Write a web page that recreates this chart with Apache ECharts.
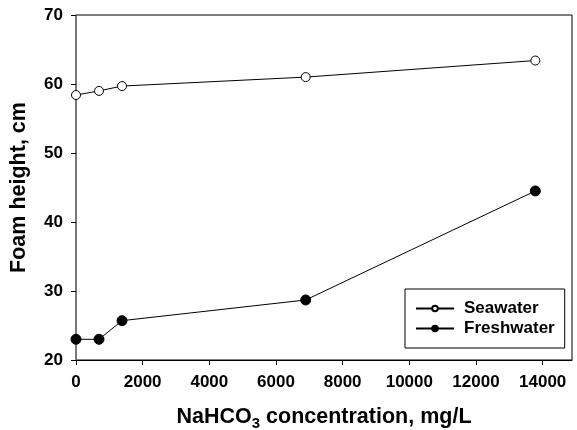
<!DOCTYPE html>
<html>
<head>
<meta charset="utf-8">
<script src="https://cdn.jsdelivr.net/npm/echarts@6/dist/echarts.min.js"></script>
<style>
html,body{margin:0;padding:0;background:#fff;}
#chart{width:577px;height:430px;}
</style>
</head>
<body>
<div id="chart"></div>
<script>
var concentration = [0, 690, 1380, 6890, 13780];
var seawater = [58.4, 59.0, 59.7, 61.0, 63.4];
var freshwater = [23.0, 23.0, 25.7, 28.7, 44.5];
var xTicks = [0, 2000, 4000, 6000, 8000, 10000, 12000, 14000];
var yTicks = [20, 30, 40, 50, 60, 70];

function pairs(xs, ys) { return xs.map(function (x, i) { return [x, ys[i]]; }); }

var FONT = 'Liberation Sans, Arial, sans-serif';
var chart = echarts.init(document.getElementById('chart'), null, {renderer: 'canvas'});
chart.setOption({
  animation: false,
  backgroundColor: '#fff',
  grid: {left: 76, top: 15, right: 5, bottom: 70, show: true, borderColor: '#000', borderWidth: 1,
    backgroundColor: 'transparent', containLabel: false, outerBoundsMode: 'none'},
  legend: {
    orient: 'vertical', left: 405, top: 289,
    backgroundColor: '#fff', borderColor: '#000', borderWidth: 1,
    padding: [11, 10, 11, 10],
    itemWidth: 38, itemHeight: 7, itemGap: 3,
    textStyle: {fontFamily: FONT, fontWeight: 'bold', fontSize: 17, color: '#000', padding: [0, 0, 0, 5]},
    data: ['Seawater', 'Freshwater']
  },
  xAxis: {
    type: 'value', min: 0, max: 14880, interval: 2000,
    name: '{a|NaHCO}{s|3}{a| concentration, mg/L}',
    nameLocation: 'middle', nameGap: 43,
    nameTextStyle: {
      rich: {
        a: {fontFamily: FONT, fontWeight: 'bold', fontSize: 21.5, color: '#000'},
        s: {fontFamily: FONT, fontWeight: 'bold', fontSize: 15, color: '#000', padding: [13, 0, 0, 0]}
      }
    },
    splitLine: {show: false},
    axisLine: {lineStyle: {color: '#000', width: 1}},
    axisTick: {show: true, inside: false, length: 5, lineStyle: {color: '#000'}, customValues: xTicks},
    axisLabel: {customValues: xTicks, margin: 14, fontFamily: FONT, fontWeight: 'bold', fontSize: 17, color: '#000',
      formatter: function (v) { return String(v); }}
  },
  yAxis: {
    type: 'value', min: 20, max: 70, interval: 10,
    name: 'Foam height, cm', nameLocation: 'middle', nameGap: 46,
    nameTextStyle: {fontFamily: FONT, fontWeight: 'bold', fontSize: 21.5, color: '#000'},
    splitLine: {show: false},
    axisLine: {show: true, lineStyle: {color: '#777', width: 1.5}},
    axisTick: {show: true, inside: false, length: 5, lineStyle: {color: '#000'}, customValues: yTicks},
    axisLabel: {customValues: yTicks, margin: 13, fontFamily: FONT, fontWeight: 'bold', fontSize: 17, color: '#000'}
  },
  series: [
    {
      name: 'Seawater', type: 'line', data: pairs(concentration, seawater),
      symbol: 'circle', symbolSize: 9,
      lineStyle: {color: '#000', width: 1},
      itemStyle: {color: '#fff', borderColor: '#000', borderWidth: 1}
    },
    {
      name: 'Freshwater', type: 'line', data: pairs(concentration, freshwater),
      symbol: 'circle', symbolSize: 10,
      lineStyle: {color: '#000', width: 1},
      itemStyle: {color: '#000', borderColor: '#000', borderWidth: 1}
    }
  ]
});
</script>
</body>
</html>
